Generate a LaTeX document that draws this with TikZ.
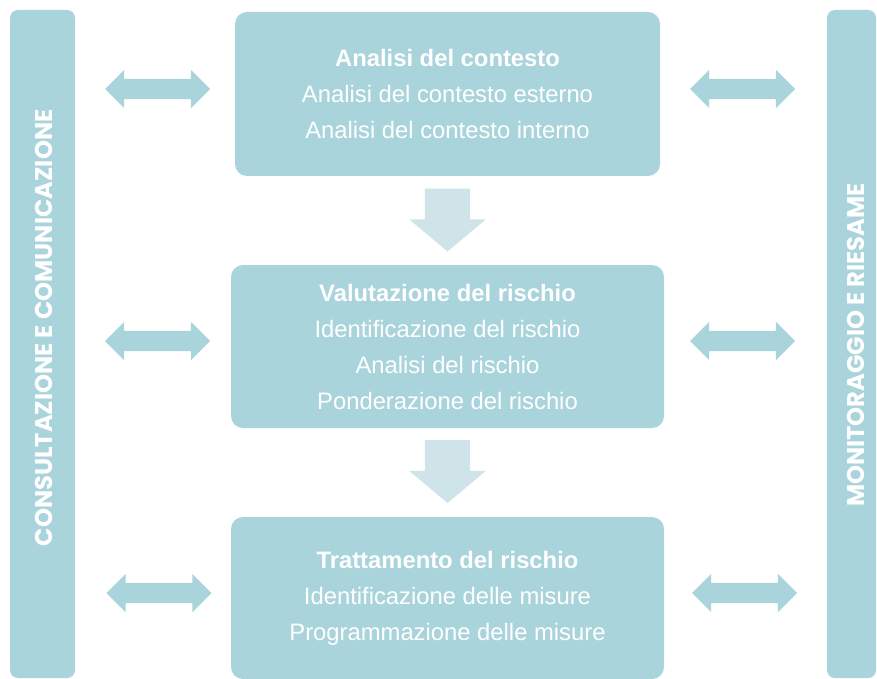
\documentclass[tikz,border=0pt]{standalone}
\usepackage{fontspec}
\setmainfont{Liberation Sans}
\newfontfamily\popfont{Poppins}
\usetikzlibrary{shapes.arrows}
\definecolor{teal1}{RGB}{169,212,219}
\definecolor{teal2}{RGB}{207,228,233}
\tikzset{
  procbox/.style={fill=teal1, draw=none, rounded corners=12pt, text=white, align=center,
    font=\fontsize{23.8}{36}\selectfont, inner sep=0pt},
  lr/.style={double arrow, fill=teal1, draw=none, inner xsep=0pt, inner ysep=10pt, minimum width=38pt,
    minimum height=105pt, double arrow head extend=9pt},
  down/.style={single arrow, fill=teal2, draw=none, inner xsep=0pt, inner ysep=22.5pt, minimum width=76pt,
    minimum height=63pt, single arrow head extend=15.5pt, single arrow tip angle=100,
    rotate=-90},
  bartext/.style={text=white, font=\popfont\bfseries\fontsize{24.2}{28}\selectfont, rotate=90}
}
\begin{document}
\begin{tikzpicture}[x=1pt,y=-1pt]
\useasboundingbox (0,0) rectangle (877,679);
\fill[teal1, rounded corners=8pt] (10,10) rectangle (75,678);
\fill[teal1, rounded corners=8pt] (827,10) rectangle (876,678);
\node[bartext] (lt) at (43.5,328) {CONSULTAZIONE E COMUNICAZIONE};
\node[bartext] (rt) at (856,345) {MONITORAGGIO E RIESAME};

\node[procbox, minimum width=425pt, minimum height=164pt] (b1) at (447.5,94)
  {\textbf{Analisi del contesto}\\Analisi del contesto esterno\\Analisi del contesto interno};
\node[procbox, minimum width=433pt, minimum height=163pt] (b2) at (447.5,346.5)
  {\textbf{Valutazione del rischio}\\Identificazione del rischio\\Analisi del rischio\\Ponderazione del rischio};
\node[procbox, minimum width=433pt, minimum height=162pt] (b3) at (447.5,598)
  {\textbf{Trattamento del rischio}\\Identificazione delle misure\\Programmazione delle misure};

\node[down] (d1) at (447.5,210.5) {};
\node[down] (d2) at (447.5,462) {};

\node[lr] (l1) at (157.5,89) {};
\node[lr] (r1) at (742.5,89) {};
\node[lr] (l2) at (157.5,341) {};
\node[lr] (r2) at (742.5,341) {};
\node[lr] (l3) at (159,593) {};
\node[lr] (r3) at (744.5,593) {};
\end{tikzpicture}
\end{document}
